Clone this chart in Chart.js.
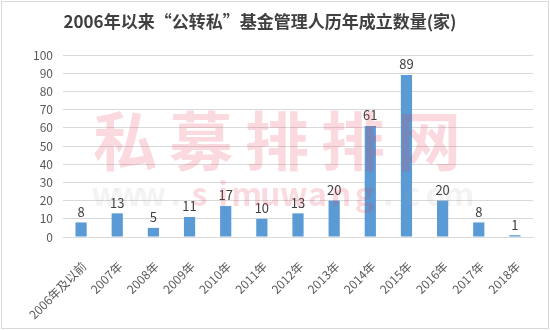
<!DOCTYPE html>
<html><head><meta charset="utf-8">
<script src="https://cdn.jsdelivr.net/npm/chart.js@4/dist/chart.umd.min.js"></script>
<style>html,body{margin:0;padding:0;background:#fff}#wrap{width:550px;height:330px}</style>
</head><body><div id="wrap"><canvas id="c" width="550" height="330"></canvas></div>
<script>
const categories = ["2006年及以前","2007年","2008年","2009年","2010年","2011年","2012年","2013年","2014年","2015年","2016年","2017年","2018年"];
const values = [8,13,5,11,17,10,13,20,61,89,20,8,1];
const yTicks = [0,10,20,30,40,50,60,70,80,90,100];
const titleText = "2006年以来“公转私”基金管理人历年成立数量(家)";
const FONT = "'Noto Sans CJK SC','Noto Sans',sans-serif";

const deco = {
  id:'deco',
  beforeDraw(chart){
    const ctx = chart.ctx;
    ctx.save();
    ctx.fillStyle='#fff';ctx.fillRect(0,0,chart.width,chart.height);
    ctx.strokeStyle='#d9d9d9';ctx.lineWidth=1;
    ctx.strokeRect(1.5,1.5,chart.width-3,chart.height-3);
    ctx.fillStyle='#404040';
    ctx.font = "bold 17px "+FONT;
    ctx.textAlign='center';ctx.textBaseline='middle';
    ctx.fillText(titleText, 260, 22);
    ctx.restore();
  },
  afterDatasetsDraw(chart){
    const ctx = chart.ctx;
    const meta = chart.getDatasetMeta(0);
    ctx.save();
    ctx.fillStyle='#404040';
    ctx.font = "13px "+FONT;
    ctx.textAlign='center';ctx.textBaseline='bottom';
    meta.data.forEach((b,i)=>{ ctx.fillText(String(values[i]), b.x, b.y-4); });
    // watermark
    ctx.globalAlpha=0.18;
    ctx.fillStyle='#e8344e';
    ctx.font = "bold 64px "+FONT;
    ctx.textAlign='center';ctx.textBaseline='middle';
    const wm = "私募排排网";
    for(let i=0;i<wm.length;i++){ ctx.fillText(wm[i], 125+76*i, 141); }
    ctx.font = "bold 32px "+FONT;
    const s = "www.simuwang.com";
    for(let i=0;i<s.length;i++){
      const pink = i>=4 && i<12;
      ctx.fillStyle = pink ? '#e8344e' : '#9a9a9a';
      ctx.globalAlpha = pink ? 0.18 : 0.12;
      ctx.fillText(s[i], 105+23.6*i, 194);
    }
    ctx.restore();
  }
};

new Chart(document.getElementById('c'),{
  type:'bar',
  data:{labels:categories,datasets:[{data:values,backgroundColor:'#5b9bd5',barPercentage:0.31,categoryPercentage:1}]},
  options:{
    responsive:false,animation:false,
    layout:{padding:{left:0,right:17,top:55,bottom:5}},
    plugins:{legend:{display:false},tooltip:{enabled:false},title:{display:false}},
    scales:{
      y:{min:0,max:100,
        afterFit(s){s.width=63;},
        afterBuildTicks(s){s.ticks=yTicks.map(v=>({value:v}));},
        ticks:{color:'#595959',font:{family:FONT,size:12},padding:10},
        grid:{color:'#d9d9d9',drawTicks:false},border:{display:false}},
      x:{grid:{display:false},border:{color:'#d9d9d9'},
        afterFit(s){s.height=88;},
        ticks:{color:'#595959',font:{family:FONT,size:12},maxRotation:45,minRotation:45,autoSkip:false,padding:14,labelOffset:3}}
    }
  },
  plugins:[deco]
});
</script></body></html>
